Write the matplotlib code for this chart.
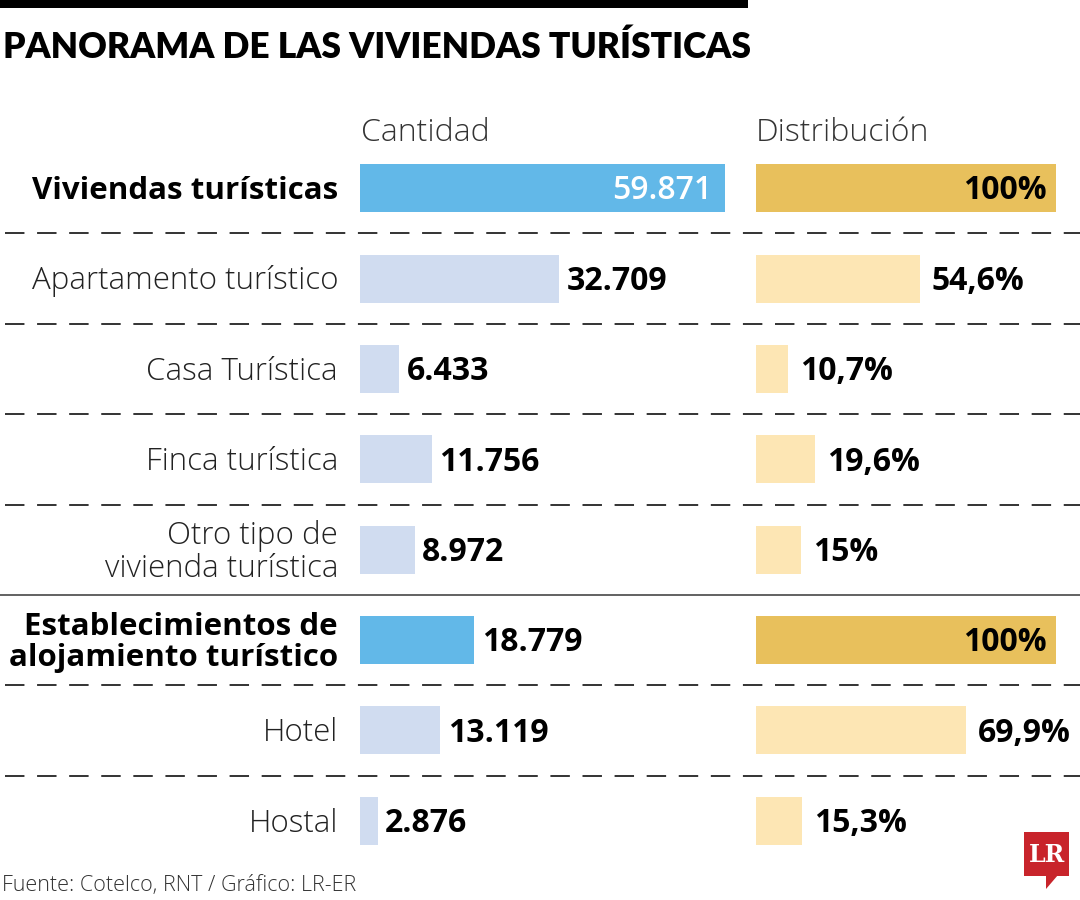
import matplotlib
matplotlib.use("Agg")
import matplotlib.pyplot as plt
from matplotlib.patches import Rectangle, Polygon
from matplotlib.transforms import offset_copy

# ---------------- data ----------------
labels = ["Viviendas turísticas", "Apartamento turístico", "Casa Turística",
          "Finca turística", "Otro tipo de\nvivienda turística",
          "Establecimientos de\nalojamiento turístico", "Hotel", "Hostal"]
is_total = [True, False, False, False, False, True, False, False]
cantidad = [59871, 32709, 6433, 11756, 8972, 18779, 13119, 2876]
cantidad_txt = ["59.871", "32.709", "6.433", "11.756", "8.972", "18.779", "13.119", "2.876"]
distribucion = [100, 54.6, 10.7, 19.6, 15, 100, 69.9, 15.3]
distribucion_txt = ["100%", "54,6%", "10,7%", "19,6%", "15%", "100%", "69,9%", "15,3%"]

title = "PANORAMA DE LAS VIVIENDAS TURÍSTICAS"
col1 = "Cantidad"
col2 = "Distribución"
source = "Fuente: Cotelco, RNT / Gráfico: LR-ER"

FONT = ["Open Sans", "DejaVu Sans"]
plt.rcParams["font.family"] = FONT

W, H = 1080, 900
fig = plt.figure(figsize=(W / 100, H / 100), dpi=100)
fig.patch.set_facecolor("white")

def px_axes(x0, y0, x1, y1, **kw):
    return fig.add_axes([x0 / W, 1 - y1 / H, (x1 - x0) / W, (y1 - y0) / H], **kw)

n = len(labels)
ROW_TOP, ROW_BOT = 143, 866
LBL = 22.5
NUM = 23
DY = -2.0  # points, small downward nudge of row texts

# background axes (full width) for dividers
axbg = px_axes(0, ROW_TOP, W, ROW_BOT)
axbg.set_xlim(0, W)
axbg.set_ylim(n - 0.5, -0.5)
axbg.axis("off")
for i in range(n - 1):
    if is_total[i + 1]:
        axbg.hlines(i + 0.5, 0, W, color="#555555", lw=1.3)
    else:
        axbg.hlines(i + 0.5, 5, W, color="#333333", lw=1.4,
                    linestyles=(0, (10, 6.5)))

# overlay for title / header / footer
axo = px_axes(0, 0, W, H)
axo.set_xlim(0, W)
axo.set_ylim(H, 0)
axo.axis("off")
axo.add_patch(Rectangle((0, 0), 748, 8, color="black", lw=0))
axo.text(3, 47, title, fontsize=25.5, fontweight="heavy", color="black",
         va="center", ha="left", family=["Lato", "DejaVu Sans"])
axo.text(361, 133, col1, fontsize=23, fontweight="light", color="#333333",
         va="center", ha="left")
axo.text(756, 133, col2, fontsize=23, fontweight="light", color="#333333",
         va="center", ha="left")
axo.text(2, 886, source, fontsize=15.5, fontweight="light", color="#333333",
         va="center", ha="left")
# LR logo
axo.add_patch(Rectangle((1024, 832), 45, 44, color="#c8242b", lw=0))
axo.add_patch(Polygon([[1046, 875], [1058, 875], [1046, 889]], closed=True,
                      color="#c8242b", lw=0))
axo.text(1046.5, 855, "LR", fontsize=17, fontweight="bold", color="white",
         family="DejaVu Serif", ha="center", va="center")

# ---------------- Cantidad bars ----------------
BAR_H = 0.53
ax1 = px_axes(360, ROW_TOP, 725, ROW_BOT)
ax1.set_xlim(0, max(cantidad))
ax1.set_ylim(n - 0.5, -0.5)
ax1.axis("off")
ax1.patch.set_alpha(0)
c1 = ["#62b8e8" if t else "#d0dcf0" for t in is_total]
ax1.barh(range(n), cantidad, height=BAR_H, color=c1, lw=0)
lbl_tr = offset_copy(ax1.get_yaxis_transform(), fig=fig, x=0, y=DY, units="points")
for i, (v, t) in enumerate(zip(cantidad, cantidad_txt)):
    if i == 0:
        ax1.annotate(t, (v, i), xytext=(-9, DY), textcoords="offset points",
                     ha="right", va="center", fontsize=NUM, fontweight="semibold",
                     color="white")
    else:
        ax1.annotate(t, (v, i), xytext=(5.5, DY), textcoords="offset points",
                     ha="left", va="center", fontsize=NUM, fontweight="bold",
                     color="black")
    ax1.text(-0.06, i, labels[i], transform=lbl_tr,
             ha="right", va="center", fontsize=LBL,
             fontweight="bold" if is_total[i] else "light",
             color="black" if is_total[i] else "#222222", linespacing=1.05)

# ---------------- Distribución bars ----------------
ax2 = px_axes(756, ROW_TOP, 1056, ROW_BOT)
ax2.set_xlim(0, 100)
ax2.set_ylim(n - 0.5, -0.5)
ax2.axis("off")
ax2.patch.set_alpha(0)
c2 = ["#e8c05c" if t else "#fde6b4" for t in is_total]
ax2.barh(range(n), distribucion, height=BAR_H, color=c2, lw=0)
for i, (v, t) in enumerate(zip(distribucion, distribucion_txt)):
    if is_total[i]:
        ax2.annotate(t, (v, i), xytext=(-7, DY), textcoords="offset points",
                     ha="right", va="center", fontsize=NUM, fontweight="bold",
                     color="black")
    else:
        ax2.annotate(t, (v, i), xytext=(8.5, DY), textcoords="offset points",
                     ha="left", va="center", fontsize=NUM, fontweight="bold",
                     color="black")

fig.savefig("out.png", dpi=100, facecolor="white")
